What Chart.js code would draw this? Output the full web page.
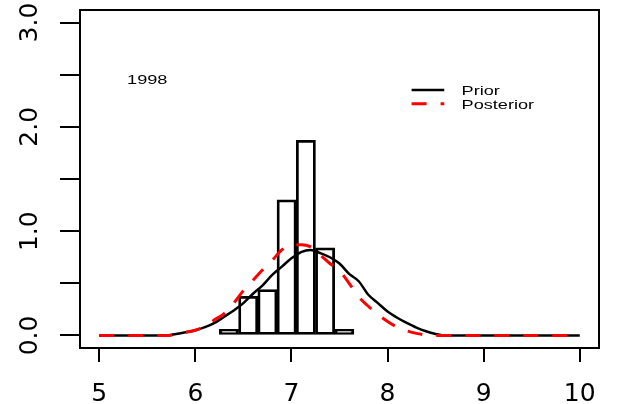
<!DOCTYPE html>
<html>
<head>
<meta charset="utf-8">
<script src="https://cdn.jsdelivr.net/npm/chart.js@4/dist/chart.umd.min.js"></script>
<style>
  body { margin: 0; background: #fff; }
  canvas { display: block; }
</style>
</head>
<body>
<canvas id="chart" width="618" height="404"></canvas>
<script>
// histogram bins (centre of each 0.2-wide bar) and heights
const binCentres = [6.35, 6.55, 6.75, 6.95, 7.15, 7.35, 7.55];
const binHeights = [0.06, 0.375, 0.44, 1.30, 1.87, 0.84, 0.06];

// density curves
const curveX = [
  5.0, 5.1, 5.2, 5.3, 5.4, 5.5, 5.6, 5.7, 5.8, 5.9,
  6.0, 6.1, 6.2, 6.3, 6.4, 6.5, 6.6, 6.7, 6.8, 6.9,
  7.0, 7.1, 7.2, 7.3, 7.4, 7.5, 7.6, 7.7, 7.8, 7.9,
  8.0, 8.1, 8.2, 8.3, 8.4, 8.5, 8.6, 8.7, 8.8, 8.9,
  9.0, 9.1, 9.2, 9.3, 9.4, 9.5, 9.6, 9.7, 9.8, 9.9, 10.0,
];
const priorY = [
  0, 0, 0, 0, 0, 0, 0, 0, 0.015, 0.03,
  0.05, 0.08, 0.12, 0.18, 0.24, 0.31, 0.40, 0.48, 0.58, 0.66,
  0.74, 0.80, 0.82, 0.79, 0.75, 0.69, 0.59, 0.52, 0.39, 0.31,
  0.23, 0.17, 0.12, 0.075, 0.04, 0.015, 0, 0, 0, 0,
  0, 0, 0, 0, 0, 0, 0, 0, 0, 0, 0,
];
const posteriorY = [
  0, 0, 0, 0, 0, 0, 0, 0, 0.012, 0.03,
  0.05, 0.09, 0.15, 0.21, 0.31, 0.43, 0.53, 0.63, 0.72, 0.82,
  0.87, 0.87, 0.85, 0.77, 0.69, 0.62, 0.50, 0.37, 0.28, 0.20,
  0.135, 0.08, 0.045, 0.02, 0.005, 0, 0, 0, 0, 0,
  0, 0, 0, 0, 0, 0, 0, 0, 0, 0, 0,
];

// axes
const xTicks = [5, 6, 7, 8, 9, 10];
const yTicks = [0, 0.5, 1, 1.5, 2, 2.5, 3];
const yLabelValues = [0, 1, 2, 3];
const yTickLabels = ['0.0', '1.0', '2.0', '3.0'];

const yearLabel = '1998';

// the original text is drawn wide, so stretch it sideways
const TEXT_FONT = '12.5px "Liberation Sans", Arial, sans-serif';
const STRETCH = 1.45;

function stretchedText(ctx, text, x, y) {
  ctx.save();
  ctx.translate(x, y);
  ctx.scale(STRETCH, 1);
  ctx.fillText(text, 0, 0);
  ctx.restore();
}

// box round the plot, the year and the legend
const decorations = {
  id: 'decorations',
  afterDraw(chart) {
    const { ctx, chartArea: a, scales: { x, y } } = chart;
    ctx.save();
    ctx.strokeStyle = '#000';
    ctx.lineWidth = 2;
    ctx.strokeRect(a.left, a.top, a.right - a.left, a.bottom - a.top);

    ctx.fillStyle = '#000';
    ctx.font = TEXT_FONT;
    ctx.textBaseline = 'alphabetic';
    stretchedText(ctx, yearLabel, x.getPixelForValue(5.29), y.getPixelForValue(2.41));

    const rows = [2.354, 2.222];
    chart.data.datasets.filter(d => d.type === 'line').forEach((d, i) => {
      const py = y.getPixelForValue(rows[i]);
      ctx.beginPath();
      ctx.strokeStyle = d.borderColor;
      ctx.lineWidth = d.borderWidth;
      ctx.setLineDash(d.borderDash || []);
      ctx.moveTo(x.getPixelForValue(8.25), py);
      ctx.lineTo(x.getPixelForValue(8.59), py);
      ctx.stroke();
      ctx.setLineDash([]);
      stretchedText(ctx, d.label, x.getPixelForValue(8.77), py + 5);
    });
    ctx.restore();
  },
};

const tickFont = { family: '"DejaVu Sans", sans-serif', size: 25 };

new Chart(document.getElementById('chart'), {
  type: 'bar',
  data: {
    datasets: [
      {
        type: 'line',
        label: 'Prior',
        data: curveX.map((v, i) => ({ x: v, y: priorY[i] })),
        borderColor: '#000000',
        borderWidth: 2.5,
        pointRadius: 0,
        cubicInterpolationMode: 'monotone',
        order: 1,
      },
      {
        type: 'line',
        label: 'Posterior',
        data: curveX.map((v, i) => ({ x: v, y: posteriorY[i] })),
        borderColor: '#ff0000',
        borderWidth: 3,
        borderDash: [15, 14],
        pointRadius: 0,
        cubicInterpolationMode: 'monotone',
        order: 0,
      },
      {
        type: 'bar',
        label: 'Histogram',
        data: binCentres.map((v, i) => ({ x: v, y: binHeights[i] })),
        backgroundColor: '#ffffff',
        borderColor: '#000000',
        borderWidth: 2.8,
        borderSkipped: false,
        barPercentage: 1,
        categoryPercentage: 1,
        order: 2,
      },
    ],
  },
  options: {
    responsive: false,
    animation: false,
    layout: { padding: { top: 10, right: 19, left: 0, bottom: 0 } },
    plugins: { legend: { display: false }, tooltip: { enabled: false } },
    scales: {
      x: {
        type: 'linear',
        min: 4.8,
        max: 10.2,
        offset: false,
        afterBuildTicks: s => { s.ticks = xTicks.map(v => ({ value: v })); },
        afterFit: s => {
          s.height = 56;
          s.paddingLeft = 0;
          s.paddingRight = 0;
        },
        ticks: { autoSkip: false, maxRotation: 0, font: tickFont, color: '#000', padding: 17 },
        grid: { offset: false, drawOnChartArea: false, tickLength: 14, color: '#000', lineWidth: 2 },
        border: { display: false },
      },
      y: {
        type: 'linear',
        min: -0.12,
        max: 3.12,
        afterBuildTicks: s => { s.ticks = yTicks.map(v => ({ value: v })); },
        afterFit: s => {
          s.width = 80;
          s.paddingTop = 0;
          s.paddingBottom = 0;
        },
        ticks: {
          autoSkip: false,
          minRotation: 90,
          maxRotation: 90,
          crossAlign: 'center',
          padding: 10,
          font: tickFont,
          color: '#000',
          callback: v => {
            const i = yLabelValues.indexOf(v);
            return i < 0 ? '' : yTickLabels[i];
          },
        },
        grid: { drawOnChartArea: false, tickLength: 20, color: '#000', lineWidth: 2 },
        border: { display: false },
      },
    },
  },
  plugins: [decorations],
});
</script>
</body>
</html>
